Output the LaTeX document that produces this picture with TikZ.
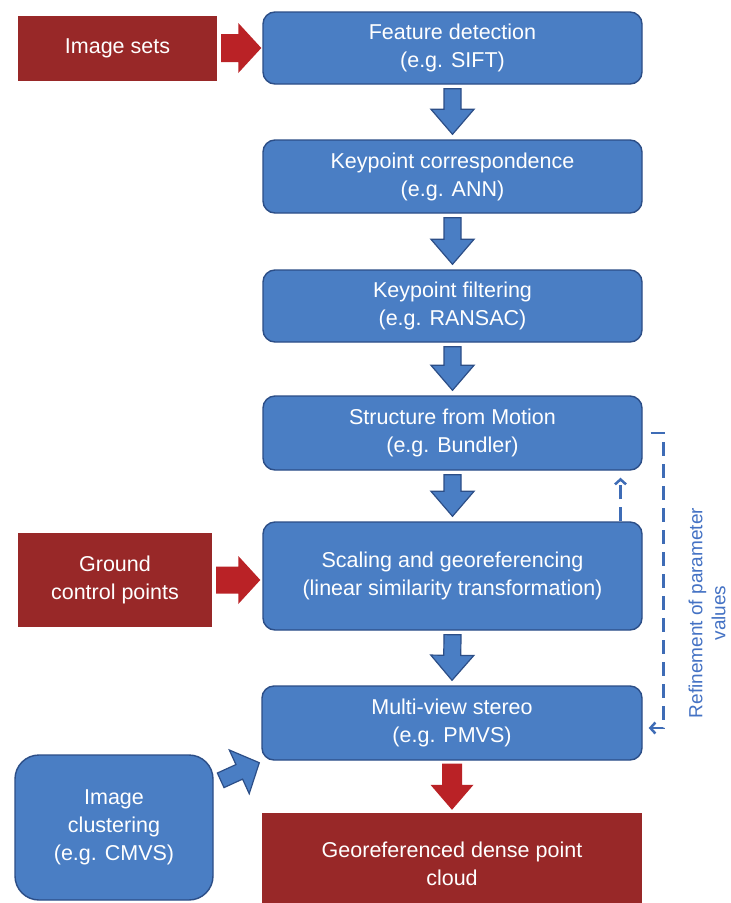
\documentclass[tikz,border=0pt]{standalone}
\usepackage{fontspec}
\setmainfont{Liberation Sans}
\usetikzlibrary{calc,arrows.meta}
\definecolor{bfill}{RGB}{74,126,196}
\definecolor{bline}{RGB}{44,78,135}
\definecolor{rbox}{RGB}{152,40,40}
\definecolor{rarrow}{RGB}{186,34,38}
\definecolor{dashblue}{RGB}{62,108,182}
\definecolor{lblblue}{RGB}{68,114,196}
\tikzset{
 bluebox/.style={draw=bline, line width=1.4pt, fill=bfill, rounded corners=12pt, text=white, align=center,
   font=\fontsize{21.5}{28}\selectfont, inner sep=0pt},
 redbox/.style={fill=rbox, text=white, align=center, font=\fontsize{21.5}{28}\selectfont, inner sep=0pt},
 bluearr/.style={fill=bfill, draw=bline, line width=1.2pt, line join=miter},
 redarr/.style={fill=rarrow},
 fback/.style={draw=dashblue, line width=2.5pt, dash pattern=on 14pt off 8pt,
   -{Straight Barb[length=5pt,width=11pt]}},
}
% block arrow: #1 style, #2 start, #3 end, #4 half shaft, #5 half head, #6 head length
\newcommand\barrow[6]{%
 \path[#1] let \p1=(#2), \p2=(#3), \n1={atan2(\y2-\y1,\x2-\x1)}, \n2={veclen(\x2-\x1,\y2-\y1)} in
  [shift={(\p1)}, rotate=\n1]
  (0pt,#4) -- ({\n2*1pt-#6},#4) -- ({\n2*1pt-#6},#5) -- ({\n2*1pt},0pt)
  -- ({\n2*1pt-#6},-#5) -- ({\n2*1pt-#6},-#4) -- (0pt,-#4) -- cycle;}
\begin{document}
\begin{tikzpicture}[x=1pt,y=-1pt]
\useasboundingbox (0,0) rectangle (731,903);
\clip (0,0) rectangle (731,903);
\fill[white] (0,0) rectangle (731,903);

% main column
\node[bluebox, minimum width=379pt, minimum height=72pt] (fd) at (452.5,48) {Feature detection\\(e.g. SIFT)};
\node[bluebox, minimum width=379pt, minimum height=73pt] (kc) at (452.5,176.5) {Keypoint correspondence\\(e.g. ANN)};
\node[bluebox, minimum width=379pt, minimum height=72pt] (kf) at (452.5,306) {Keypoint filtering\\(e.g. RANSAC)};
\node[bluebox, minimum width=379pt, minimum height=74pt] (sfm) at (452.5,433) {Structure from Motion\\(e.g. Bundler)};
\node[bluebox, minimum width=379pt, minimum height=108pt] (sg) at (452.5,576) {Scaling and georeferencing\\(linear similarity transformation)};
\node[bluebox, minimum width=380pt, minimum height=74pt] (mvs) at (452,723) {Multi-view stereo\\(e.g. PMVS)};
\node[redbox, minimum width=380pt, minimum height=102pt] (geo) at (452,864) {Georeferenced dense point\\cloud};

% left column
\node[redbox, minimum width=199pt, minimum height=65pt] (imgsets) at (117.5,48) {Image sets};
\node[redbox, minimum width=194pt, minimum height=94pt] (gcp) at (115,580) {Ground\\control points};
\node[bluebox, rounded corners=24pt, minimum width=198pt, minimum height=145pt] (ic) at (114,827.5) {Image\\clustering\\(e.g. CMVS)};

% block arrows
\barrow{redarr}{[xshift=4pt]imgsets.east}{[xshift=-1pt]fd.west}{14pt}{25pt}{23pt}
\barrow{bluearr}{[yshift=-4pt]fd.south}{[yshift=5pt]kc.north}{8.5pt}{21.5pt}{25pt}
\barrow{bluearr}{[yshift=-4pt]kc.south}{[yshift=5pt]kf.north}{8.5pt}{21.5pt}{25pt}
\barrow{bluearr}{[yshift=-4pt]kf.south}{[yshift=5pt]sfm.north}{8.5pt}{21.5pt}{25pt}
\barrow{bluearr}{[yshift=-4pt]sfm.south}{[yshift=5pt]sg.north}{8.5pt}{21.5pt}{25pt}
\barrow{redarr}{[xshift=4pt]gcp.east}{$(sg.west |- gcp.east)+(-2pt,0pt)$}{13.5pt}{24pt}{22pt}
\barrow{bluearr}{[yshift=-4pt]sg.south}{[yshift=5pt]mvs.north}{8.5pt}{21.5pt}{25pt}
\barrow{redarr}{[yshift=-3pt]mvs.south}{[yshift=3pt]geo.north}{10pt}{21.5pt}{25pt}
\barrow{bluearr}{[shift={(7pt,-26pt)}]ic.north east}{[shift={(-2pt,-2pt)}]mvs.south west}{8pt}{24pt}{22pt}

% feedback loop
\draw[fback] ([xshift=8pt]sfm.east) -- ++(13pt,0pt) |- ([xshift=6pt,yshift=-5pt]mvs.east);
\draw[fback] ([xshift=168pt]sg.north) -- ([xshift=168pt,yshift=-7pt]sfm.south);
\node[rotate=90, text=lblblue, align=center, font=\fontsize{19}{23}\selectfont] (lbl) at (707,613)
  {Refinement of parameter\\values};
\end{tikzpicture}
\end{document}
